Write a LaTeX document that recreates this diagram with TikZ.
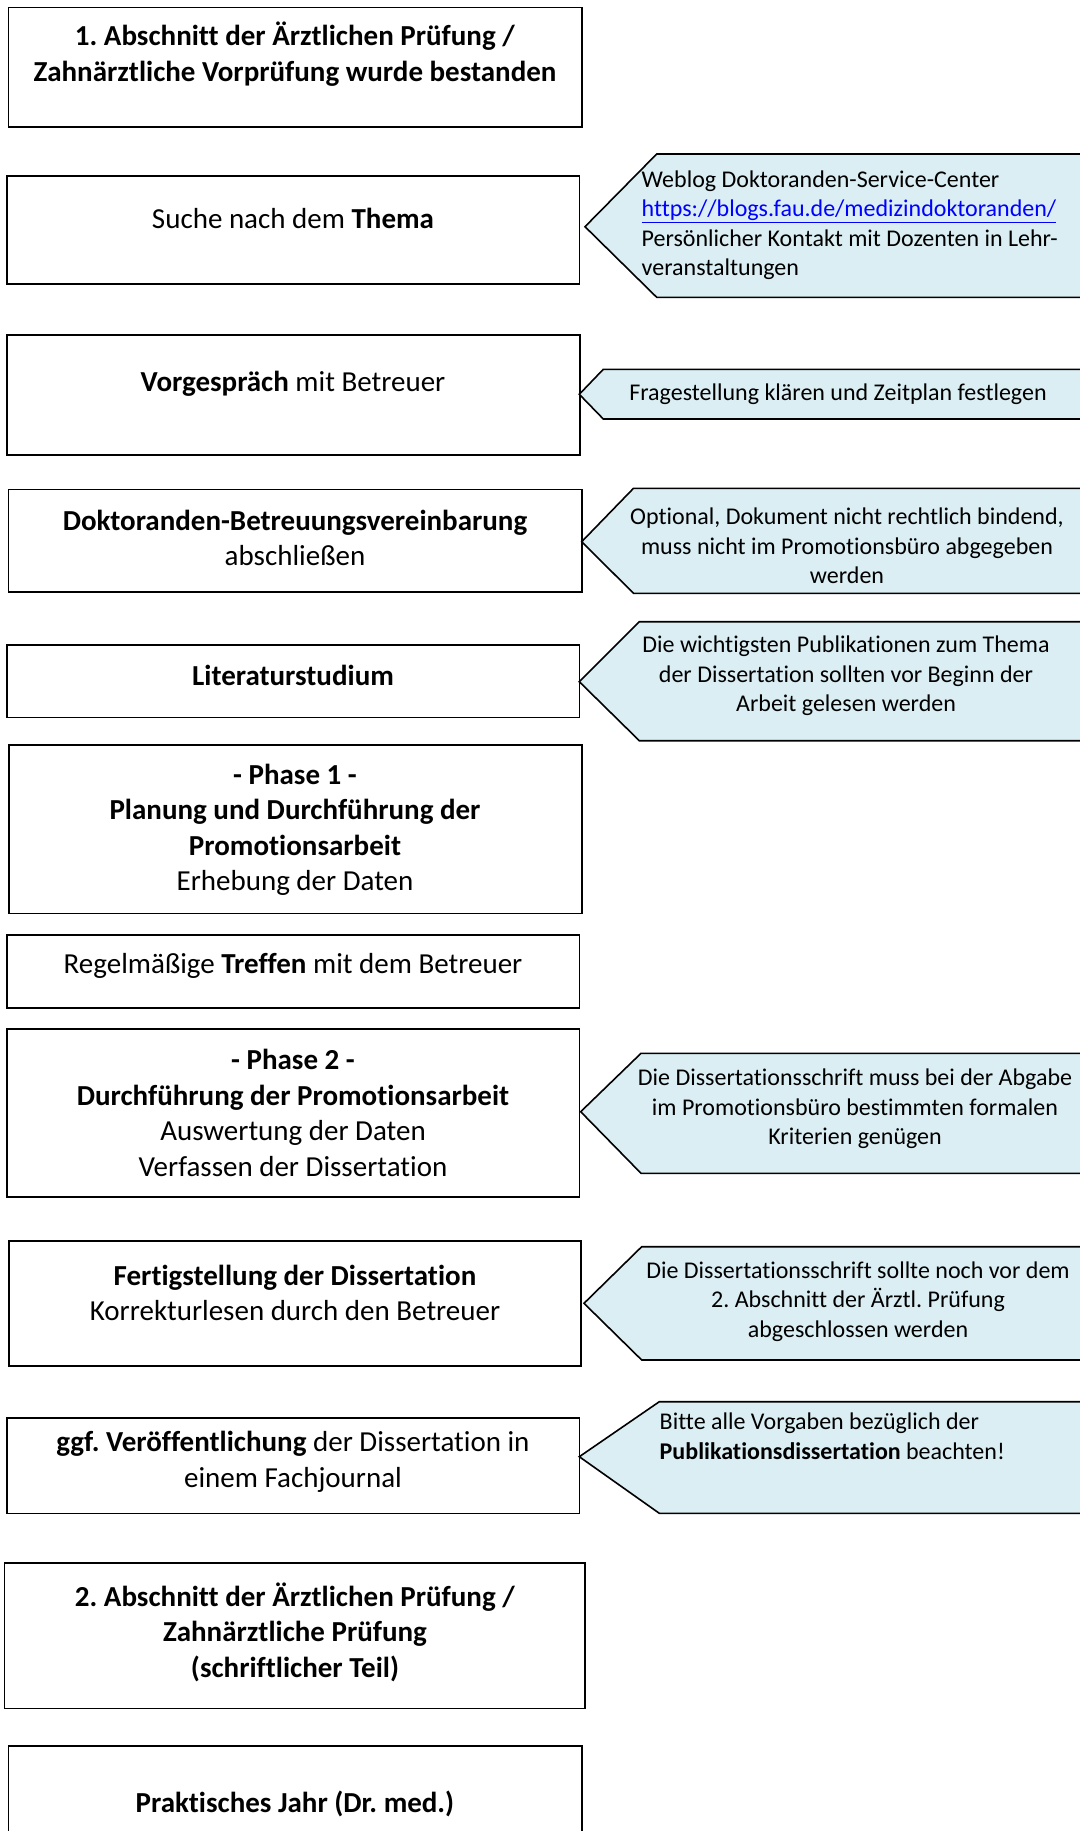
\documentclass[tikz,border=0pt]{standalone}
\usepackage{fontspec}
\setmainfont{Carlito}[Ligatures={NoCommon}]
\usetikzlibrary{fit}
\definecolor{callfill}{HTML}{DAEEF3}
\definecolor{linkblue}{HTML}{0000FF}
\tikzset{
  stepbox/.style={draw=black, line width=1.6pt, fill=white, inner sep=0pt, outer sep=0pt},
  boxtext/.style={align=center, inner sep=0pt, font=\fontsize{29}{35.5}\selectfont},
  calloutshape/.style={draw=black, line width=1.6pt, fill=callfill, line join=miter},
  calltext/.style={align=center, inner sep=0pt, font=\fontsize{24}{29.5}\selectfont},
  calltextleft/.style={align=left, inner sep=0pt, anchor=west, font=\fontsize{24}{29.5}\selectfont},
}
% tip x, tip y, corner x, top, bottom
\newcommand\mycallout[5]{%
  \draw[calloutshape] (#1,#2) -- (#3,#4) -- (1090,#4) -- (1090,#5) -- (#3,#5) -- cycle;}
\frenchspacing
\begin{document}
\begin{tikzpicture}[x=1pt,y=-1pt]
\useasboundingbox (0,0) rectangle (1079,1831);

% ---- step boxes ----
\node[stepbox, fit={(8.3,7.3) (581.7,126.7)}] (b1) {};
\node[stepbox, fit={(6.7,176) (579.3,284)}] (b2) {};
\node[stepbox, fit={(6.7,335) (580,455)}] (b3) {};
\node[stepbox, fit={(8.3,489.5) (581.7,591.7)}] (b4) {};
\node[stepbox, fit={(7,645) (579.3,717.3)}] (b5) {};
\node[stepbox, fit={(9,745) (581.7,913.3)}] (b6) {};
\node[stepbox, fit={(7,935) (579.3,1007.7)}] (b7) {};
\node[stepbox, fit={(7,1029) (579.3,1196.7)}] (b8) {};
\node[stepbox, fit={(9,1240.7) (580.7,1366)}] (b9) {};
\node[stepbox, fit={(7,1417.7) (579.3,1513.3)}] (b10) {};
\node[stepbox, fit={(4.6,1562.7) (585,1708.3)}] (b11) {};
\node[stepbox, fit={(8.4,1746) (581.7,1845)}] (b12) {};

% ---- step texts ----
\node[boxtext] (t1) at (295,54) {\textbf{1. Abschnitt der Ärztlichen Prüfung /}\\\textbf{Zahnärztliche Vorprüfung wurde bestanden}};
\node[boxtext] (t2) at (293,218) {Suche nach dem \textbf{Thema}};
\node[boxtext] (t3) at (293,384) {\textbf{Vorgespräch} mit Betreuer};
\node[boxtext] (t4) at (295,538) {\textbf{Doktoranden-Betreuungsvereinbarung}\\abschließen};
\node[boxtext] (t5) at (293,675) {\textbf{Literaturstudium}};
\node[boxtext] (t6) at (295,830) {\textbf{- Phase 1 -}\\\textbf{Planung und Durchführung der}\\\textbf{Promotionsarbeit}\\Erhebung der Daten};
\node[boxtext] (t7) at (293,965.5) {Regelmäßige \textbf{Treffen} mit dem Betreuer};
\node[boxtext] (t8) at (293,1113) {\textbf{- Phase 2 -}\\\textbf{Durchführung der Promotionsarbeit}\\Auswertung der Daten\\Verfassen der Dissertation};
\node[boxtext] (t9) at (295,1293) {\textbf{Fertigstellung der Dissertation}\\Korrekturlesen durch den Betreuer};
\node[boxtext] (t10) at (293,1462) {\textbf{ggf. Veröffentlichung} der Dissertation in\\einem Fachjournal};
\node[boxtext] (t11) at (295,1632) {\textbf{2. Abschnitt der Ärztlichen Prüfung /}\\\textbf{Zahnärztliche Prüfung}\\\textbf{(schriftlicher Teil)}};
\node[boxtext] (t12) at (295,1804) {\textbf{Praktisches Jahr (Dr. med.)}};

% ---- callouts ----
\mycallout{585}{226.7}{656.7}{154}{297.3}
\mycallout{579.3}{394.3}{603.3}{369.3}{419}
\mycallout{581.7}{541.7}{633.5}{488.3}{593.3}
\mycallout{579.3}{681.7}{639.3}{621.7}{740.7}
\mycallout{580.7}{1111.7}{641}{1053.3}{1173.3}
\mycallout{584}{1303.3}{641.7}{1246.7}{1360}
\mycallout{579.3}{1456.7}{659.3}{1401.7}{1513.3}

\node[calltextleft] (c1) at (641.5,225) {Weblog Doktoranden-Service-Center\\\textcolor{linkblue}{\underline{https://blogs.fau.de/medizindoktoranden/}}\\Persönlicher Kontakt mit Dozenten in Lehr-\\veranstaltungen};
\node[calltext] (c2) at (838,394) {Fragestellung klären und Zeitplan festlegen};
\node[calltext] (c3) at (847,546) {Optional, Dokument nicht rechtlich bindend,\\muss nicht im Promotionsbüro abgegeben\\werden};
\node[calltext] (c4) at (846,676) {Die wichtigsten Publikationen zum Thema\\der Dissertation sollten vor Beginn der\\Arbeit gelesen werden};
\node[calltext] (c5) at (855,1109) {Die Dissertationsschrift muss bei der Abgabe\\im Promotionsbüro bestimmten formalen\\Kriterien genügen};
\node[calltext] (c6) at (858,1301.5) {Die Dissertationsschrift sollte noch vor dem\\2. Abschnitt der Ärztl. Prüfung\\abgeschlossen werden};
\node[calltextleft] (c7) at (659.5,1436) {Bitte alle Vorgaben bezüglich der\\\textbf{Publikationsdissertation} beachten!};
\end{tikzpicture}
\end{document}
